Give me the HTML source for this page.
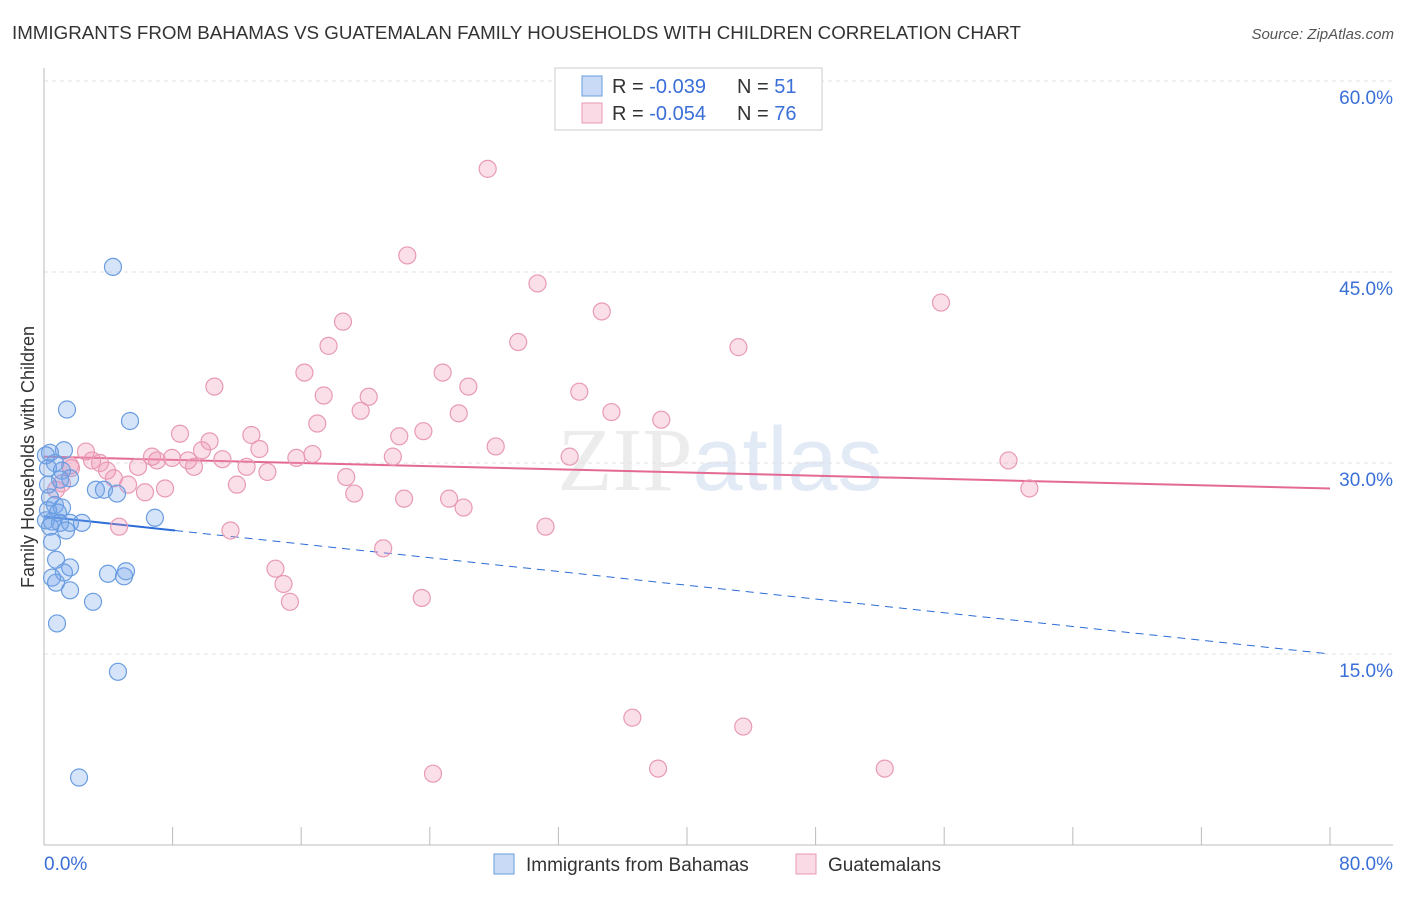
<!DOCTYPE html>
<html><head><meta charset="utf-8"><style>
body{margin:0;background:#fff;font-family:"Liberation Sans",sans-serif;}
</style></head><body>
<svg id="chart" width="1406" height="892" xmlns="http://www.w3.org/2000/svg" style="font-family:'Liberation Sans',sans-serif">
<text x="12" y="39" font-size="18" fill="#333" textLength="1009" lengthAdjust="spacingAndGlyphs">IMMIGRANTS FROM BAHAMAS VS GUATEMALAN FAMILY HOUSEHOLDS WITH CHILDREN CORRELATION CHART</text>
<text x="1394" y="39" font-size="15" fill="#555" text-anchor="end" font-style="italic">Source: ZipAtlas.com</text>
<text x="720" y="490" font-size="90" fill="#ececec" text-anchor="middle" font-family="Liberation Serif">ZIP<tspan fill="#e2eaf6" font-family="Liberation Sans">atlas</tspan></text>
<text transform="translate(34,457) rotate(-90)" font-size="18" fill="#333" text-anchor="middle">Family Households with Children</text>
<g id="grid"></g><g id="axes"></g><g id="trends"></g><g id="pts"></g>
<g>
<rect x="555" y="68" width="267" height="62" fill="#fff" stroke="#ccc"/>
<rect x="582" y="76" width="20" height="20" fill="rgba(100,150,230,0.35)" stroke="#6a9de0"/>
<rect x="582" y="103" width="20" height="20" fill="rgba(240,150,180,0.35)" stroke="#e89ab4"/>
<text x="612" y="93" font-size="20" fill="#333">R = <tspan fill="#3a6fd8">-0.039</tspan></text>
<text x="737" y="93" font-size="20" fill="#333">N = <tspan fill="#3a6fd8">51</tspan></text>
<text x="612" y="120" font-size="20" fill="#333">R = <tspan fill="#3a6fd8">-0.054</tspan></text>
<text x="737" y="120" font-size="20" fill="#333">N = <tspan fill="#3a6fd8">76</tspan></text>
</g>
<g>
<rect x="494" y="854" width="20" height="20" fill="rgba(100,150,230,0.35)" stroke="#6a9de0"/>
<text x="526" y="871" font-size="19" fill="#333">Immigrants from Bahamas</text>
<rect x="796" y="854" width="20" height="20" fill="rgba(240,150,180,0.35)" stroke="#e89ab4"/>
<text x="828" y="871" font-size="19" fill="#333">Guatemalans</text>
</g>
</svg>
<script>
const blueX=[4.29,1.43,5.35,1.24,0.37,0.68,0.25,1.12,1.62,1.00,3.23,3.73,4.54,0.37,0.68,1.12,0.25,0.87,6.90,0.12,0.50,1.00,1.62,2.36,0.37,1.37,0.50,0.75,1.62,1.24,3.98,5.10,4.98,0.50,0.75,1.62,3.05,0.81,4.60,2.18,0.25,0.12];
const blueY=[45.4,34.2,33.3,31.0,30.8,30.0,29.6,29.4,28.8,28.7,27.9,27.9,27.6,27.3,26.7,26.5,26.3,26.1,25.7,25.5,25.4,25.3,25.3,25.3,25.0,24.7,23.8,22.4,21.8,21.4,21.3,21.5,21.1,21.0,20.6,20.0,19.1,17.4,13.6,5.3,28.3,30.6];
const pinkX=[27.6,22.6,30.7,55.8,34.7,18.6,29.5,17.7,43.2,10.6,16.2,24.8,26.4,17.4,20.2,33.3,19.7,25.8,35.3,38.4,17.0,23.6,8.46,12.9,22.1,10.3,13.4,28.1,2.61,9.83,6.72,7.96,16.7,15.7,21.7,32.7,60.0,2.99,3.48,7.03,11.1,8.96,9.33,5.85,12.6,1.68,3.92,13.9,4.35,18.8,5.23,12.0,7.53,6.28,61.3,0.75,19.3,22.4,25.2,26.1,4.67,31.2,11.6,21.1,14.4,14.9,15.3,23.5,36.6,43.5,38.2,24.2,52.3,1.12,1.62];
const pinkY=[53.1,46.3,44.1,42.6,41.9,41.1,39.5,39.2,39.1,36.0,37.1,37.1,36.0,35.3,35.2,35.6,34.1,33.9,34.0,33.4,33.1,32.5,32.3,32.2,32.1,31.7,31.1,31.3,30.9,31.0,30.5,30.4,30.7,30.4,30.5,30.5,30.2,30.2,30.0,30.2,30.3,30.2,29.7,29.7,29.7,29.6,29.4,29.3,28.8,28.9,28.3,28.3,28.0,27.7,28.0,27.9,27.6,27.2,27.2,26.5,25.0,25.0,24.7,23.3,21.7,20.5,19.1,19.4,10.0,9.3,6.0,5.6,6.0,28.4,29.8];
const yTicks=[15,30,45,60];
const yTickLabels=["15.0%","30.0%","45.0%","60.0%"];
const xTicks=[0,8,16,24,32,40,48,56,64,72,80];
const blueTrend=[25.8,15.0]; const blueSolidEnd=8.15;
const pinkTrend=[30.5,28.0];
const NS='http://www.w3.org/2000/svg';
const sx=v=>44+v/80*1286, sy=v=>845-v/15*191;
function mk(t,a,p){const e=document.createElementNS(NS,t);for(const k in a)e.setAttribute(k,a[k]);document.getElementById(p).appendChild(e);return e;}
yTicks.forEach((t,i)=>{
 const g=mk('line',{x1:44,x2:1393,y1:sy(t),y2:sy(t),stroke:'#e2e2e2','stroke-dasharray':'4,4'},'grid');
 
 
 const l=mk('text',{x:1393,y:sy(t)+23,'font-size':19,fill:'#3a6fd8','text-anchor':'end'},'grid');
 l.textContent=yTickLabels[i];
 
 
});
const ax=mk('line',{x1:44,x2:1393,y1:845,y2:845,stroke:'#bbb'},'axes');


const ay=mk('line',{x1:44,x2:44,y1:68,y2:845,stroke:'#bbb'},'axes');


xTicks.forEach(t=>{const e=mk('line',{x1:sx(t),x2:sx(t),y1:827,y2:845,stroke:'#bbb'},'axes');
 
 });
[[0,'0.0%','start',44],[80,'80.0%','end',1393]].forEach(d=>{const e=mk('text',{x:d[3],y:870,'font-size':19,fill:'#3a6fd8','text-anchor':d[2]},'axes');e.textContent=d[1];
 
 });
function pts(X,Y,f,s,n){X.forEach((x,i)=>{const c=mk('circle',{cx:sx(x),cy:sy(Y[i]),r:8.5,fill:f,stroke:s,'stroke-width':1.2},'pts');
 
 });}
pts(pinkX,pinkY,'rgba(240,150,180,0.3)','#e89ab4','guatemalans-point');
pts(blueX,blueY,'rgba(120,165,235,0.3)','#6a9de0','bahamas-point');
const bAt=x=>blueTrend[0]+(blueTrend[1]-blueTrend[0])*x/80;
const t1=mk('line',{x1:sx(0),y1:sy(bAt(0)),x2:sx(blueSolidEnd),y2:sy(bAt(blueSolidEnd)),stroke:'#2b6cd6','stroke-width':2},'trends');


const t2=mk('line',{x1:sx(blueSolidEnd),y1:sy(bAt(blueSolidEnd)),x2:sx(80),y2:sy(bAt(80)),stroke:'#2b6cd6','stroke-width':1,'stroke-dasharray':'8,6'},'trends');


const t3=mk('line',{x1:sx(0),y1:sy(pinkTrend[0]),x2:sx(80),y2:sy(pinkTrend[1]),stroke:'#e46a93','stroke-width':2},'trends');


</script>
</body></html>
